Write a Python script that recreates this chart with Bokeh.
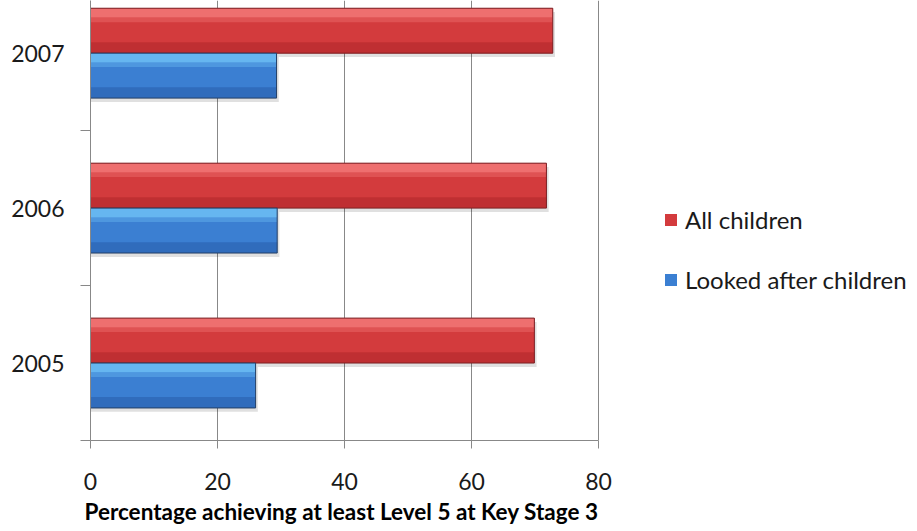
from bokeh.plotting import figure
from bokeh.models import ColumnDataSource, Range1d, FixedTicker, Legend, LegendItem, Title
from bokeh.transform import dodge
from bokeh.embed import file_html
from bokeh.resources import INLINE

years = ["2005", "2006", "2007"]
all_children = [69.9, 71.8, 72.8]
looked_after = [26.0, 29.4, 29.3]
series_names = ["All children", "Looked after children"]
x_ticks = [0, 20, 40, 60, 80]
x_title = "Percentage achieving at least Level 5 at Key Stage 3"

ypos = [i + 0.5 for i in range(len(years))]
src = ColumnDataSource(dict(y=ypos, all=all_children, lac=looked_after))

FONT = "Lato"
TXT = "#1a1a1a"

# frame spans x=90..917; the value axis (0..80) occupies 90..598, the rest holds the legend
X_MAX = 80 * (917 - 90) / (598 - 90)

p = figure(width=917, height=531, output_backend="svg", toolbar_location=None,
           x_range=Range1d(0, X_MAX), y_range=Range1d(0, 2.84),
           min_border_left=90, min_border_right=0, min_border_top=0, min_border_bottom=91)
p.outline_line_color = None
p.background_fill_color = "white"
p.border_fill_color = "white"

# grid
p.ygrid.visible = False
p.xgrid.ticker = FixedTicker(ticks=x_ticks)
p.xgrid.grid_line_color = "#888888"
p.xgrid.grid_line_width = 1

# x axis
xa = p.xaxis[0]
xa.ticker = FixedTicker(ticks=x_ticks)
xa.bounds = (0, 80)
xa.axis_line_color = "#888888"
xa.major_tick_line_color = "#888888"
xa.major_tick_out = 8
xa.major_tick_in = 0
xa.minor_tick_line_color = None
xa.major_label_text_font = FONT
xa.major_label_text_font_size = "23px"
xa.major_label_text_color = TXT
xa.major_label_standoff = 24

p.add_layout(Title(text=x_title, align="left", offset=-6, standoff=6,
                   text_font=FONT, text_font_size="22.5px", text_font_style="bold",
                   text_color="#000000"), "below")

# y axis
ya = p.yaxis[0]
ya.ticker = FixedTicker(ticks=ypos, minor_ticks=[0, 1, 2, 3])
ya.major_label_overrides = {y: lab for y, lab in zip(ypos, years)}
ya.axis_line_color = "#888888"
ya.major_tick_line_color = None
ya.minor_tick_line_color = "#888888"
ya.minor_tick_out = 10
ya.minor_tick_in = 0
ya.major_label_text_font = FONT
ya.major_label_text_font_size = "23px"
ya.major_label_text_color = TXT
ya.major_label_standoff = 16

H = 0.29
OFF = 0.145

def bar(field, off, body, light, dark, border):
    # soft shadow
    p.hbar(y=dodge("y", off - 0.025, range=p.y_range), left=0, right=dodge(field, 0.35, range=p.x_range),
           height=H, source=src, fill_color="#000000", fill_alpha=0.12, line_color=None)
    r = p.hbar(y=dodge("y", off, range=p.y_range), left=0, right=field, height=H, source=src,
               fill_color=body, line_color=None)
    p.hbar(y=dodge("y", off + H / 2 - 0.03, range=p.y_range), left=0, right=field, height=0.06,
           source=src, fill_color=light, line_color=None)
    p.hbar(y=dodge("y", off + H / 2 - 0.075, range=p.y_range), left=0, right=field, height=0.03,
           source=src, fill_color=light, fill_alpha=0.45, line_color=None)
    p.hbar(y=dodge("y", off - H / 2 + 0.035, range=p.y_range), left=0, right=field, height=0.07,
           source=src, fill_color=dark, fill_alpha=0.6, line_color=None)
    p.hbar(y=dodge("y", off, range=p.y_range), left=0, right=field, height=H, source=src,
           fill_color=None, line_color=border, line_width=1)
    return r

r_all = bar("all", OFF, "#d33b3d", "#ee6f6f", "#b3282c", "#7a2024")
r_lac = bar("lac", -OFF, "#3b7fd2", "#66b6f0", "#2a5fae", "#243f66")

legend = Legend(items=[LegendItem(label=series_names[0], renderers=[r_all]),
                       LegendItem(label=series_names[1], renderers=[r_lac])],
                location=(573, 146), orientation="vertical")
legend.label_text_font = FONT
legend.label_text_font_size = "24px"
legend.label_text_color = TXT
legend.glyph_width = 15
legend.glyph_height = 15
legend.spacing = 31
legend.padding = 0
legend.margin = 0
legend.label_standoff = 7
legend.border_line_color = None
legend.background_fill_alpha = 0
legend.item_background_fill_alpha = 0
p.add_layout(legend, "center")

open("out.html", "w").write(file_html(p, INLINE))
